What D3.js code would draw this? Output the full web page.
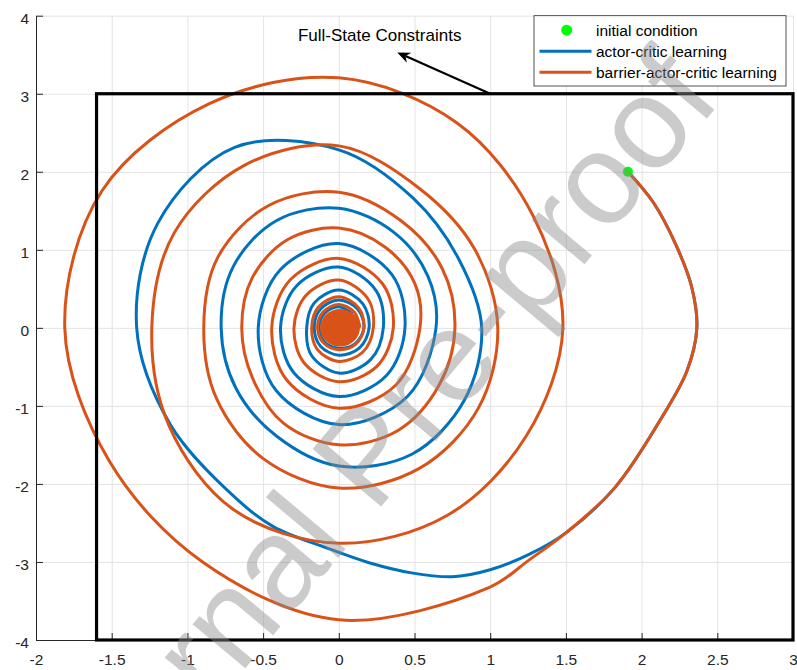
<!DOCTYPE html>
<html>
<head>
<meta charset="utf-8">
<script src="https://cdn.jsdelivr.net/npm/d3@7"></script>
<style>
    body { margin: 0; background: #fff; }
    svg { display: block; font-family: "Liberation Sans", Arial, Helvetica, sans-serif; }
</style>
</head>
<body>
<svg id="chart" width="797" height="670"></svg>
<script>
// ticks
const xTicks = [-2, -1.5, -1, -0.5, 0, 0.5, 1, 1.5, 2, 2.5, 3];
const yTicks = [-4, -3, -2, -1, 0, 1, 2, 3, 4];

// state constraint box and start point
const constraintX = [-1.6, 3];
const constraintY = [-4, 3];
const initialCondition = [1.91, 2.0];

// both runs leave the start point together
const sharedStart = [
    [1.91, 2.00], [2.08, 1.60], [2.224, 1.075], [2.33, 0.53], [2.365, 0.0], [2.30, -0.55],
    [2.144, -1.114], [1.825, -2.044], [1.502, -2.624]
];

// actor-critic learning after the split, one loop per line
const actorCritic = [
    [1.26, -2.90], [1.00, -3.10], [0.75, -3.19], [0.48, -3.14], [0.20, -3.01], [-0.08, -2.82], [-0.43, -2.55],
    [-0.66, -2.218], [-1.111, -1.244], [-1.335, 0.0], [-1.196, 1.339], [-0.688, 2.313], [0.0, 2.281], [0.493, 1.658], [0.791, 0.886], [0.944, 0.0],
    [0.829, -0.929], [0.482, -1.62], [0.0, -1.771], [-0.412, -1.386], [-0.682, -0.764], [-0.777, 0.0], [-0.698, 0.782], [-0.41, 1.376], [0.0, 1.533], [0.364, 1.223], [0.589, 0.66], [0.642, 0.0],
    [0.453, -0.879], [0.0, -1.24], [-0.414, -0.803], [-0.532, 0.0], [-0.385, 0.747], [0.0, 1.08], [0.351, 0.682], [0.437, 0.0],
    [0.315, -0.611], [0.0, -0.88], [-0.297, -0.575], [-0.385, 0.0], [-0.278, 0.54], [0.0, 0.78], [0.246, 0.478], [0.294, 0.0],
    [0.21, -0.407], [0.0, -0.58], [-0.181, -0.351], [-0.212, 0.0], [-0.163, 0.317], [0.0, 0.485], [0.159, 0.308], [0.20, 0.0],
    [0.135, -0.261], [0.0, -0.35], [-0.121, -0.235], [-0.162, 0.0], [-0.122, 0.237], [0.0, 0.357], [0.124, 0.24], [0.166, 0.0],
    [0.106, -0.205], [0.0, -0.26], [-0.093, -0.181], [-0.13, 0.0], [-0.095, 0.185], [0.0, 0.27], [0.091, 0.177]
];

// barrier-actor-critic learning after the split, one loop per line
const barrierActorCritic = [
    [1.26, -2.97], [0.991, -3.329], [0.0, -3.742], [-0.895, -3.007], [-1.518, -1.70], [-1.81, 0.0], [-1.565, 1.753], [-0.855, 2.873], [0.0, 3.204], [0.781, 2.626], [1.283, 1.436], [1.48, 0.0],
    [1.238, -1.386], [0.715, -2.404], [0.0, -2.76], [-0.694, -2.331], [-1.121, -1.256], [-1.235, 0.0], [-1.087, 1.217], [-0.621, 2.086], [0.0, 2.332], [0.537, 1.78], [0.898, 1.006], [1.05, 0.0],
    [0.921, -1.032], [0.535, -1.798], [0.0, -2.053], [-0.499, -1.676], [-0.808, -0.905], [-0.892, 0.0], [-0.801, 0.897], [-0.466, 1.565], [0.0, 1.738], [0.409, 1.375], [0.682, 0.764], [0.767, 0.0],
    [0.661, -0.74], [0.391, -1.315], [0.0, -1.499], [-0.364, -1.224], [-0.571, -0.639], [-0.641, 0.0], [-0.572, 0.641], [-0.337, 1.132], [0.0, 1.278], [0.307, 1.032], [0.503, 0.563], [0.536, 0.0],
    [0.377, -0.732], [0.0, -1.03], [-0.344, -0.668], [-0.443, 0.0], [-0.319, 0.619], [0.0, 0.89], [0.29, 0.562], [0.36, 0.0],
    [0.253, -0.491], [0.0, -0.69], [-0.23, -0.447], [-0.296, 0.0], [-0.216, 0.419], [0.0, 0.613], [0.192, 0.373], [0.228, 0.0],
    [0.159, -0.309], [0.0, -0.43], [-0.142, -0.275], [-0.179, 0.0], [-0.136, 0.264], [0.0, 0.40], [0.131, 0.255], [0.166, 0.0],
    [0.11, -0.213], [0.0, -0.28], [-0.10, -0.195], [-0.14, 0.0], [-0.104, 0.202], [0.0, 0.30], [0.103, 0.199], [0.14, 0.0]
];

// the barrier run settles into a solid spot at the origin
const coreX = [-0.124, 0.14];
const coreY = [-0.24, 0.24];

const legendLabels = ["initial condition", "actor-critic learning", "barrier-actor-critic learning"];
const annotationText = "Full-State Constraints";
const annotationAt = [0.27, 3.676];
const arrowFrom = [1.0, 3.0];
const arrowTo = [0.386, 3.53];
const watermarkText = "Journal Pre-proof";

const cBlue = "#0072BD";
const cOrange = "#D95319";
const cAxis = "#262626";

function drawChart() {
    let canvas = d3.select("#chart");

    let left = 36;
    let right = 793;
    let top = 15.7;
    let bottom = 640;

    let x = d3.scaleLinear().domain([-2, 3]).range([left, right]);
    let y = d3.scaleLinear().domain([-4, 4]).range([bottom, top]);

    // grid
    canvas.append("g")
        .attr("transform", "translate(0," + bottom + ")")
        .call(d3.axisBottom(x).tickValues(xTicks).tickSize(-(bottom - top)).tickFormat(""))
        .call(g => g.select(".domain").remove())
        .selectAll("line").attr("stroke", "#e3e3e3");
    canvas.append("g")
        .attr("transform", "translate(" + left + ",0)")
        .call(d3.axisLeft(y).tickValues(yTicks).tickSize(-(right - left)).tickFormat(""))
        .call(g => g.select(".domain").remove())
        .selectAll("line").attr("stroke", "#e3e3e3");

    // axes, ticks pointing inwards
    let xAxis = canvas.append("g")
        .attr("transform", "translate(0," + bottom + ")")
        .call(d3.axisBottom(x).tickValues(xTicks).tickSizeInner(-7).tickSizeOuter(0)
            .tickPadding(14).tickFormat(d => String(d)));
    let yAxis = canvas.append("g")
        .attr("transform", "translate(" + left + ",0)")
        .call(d3.axisLeft(y).tickValues(yTicks).tickSizeInner(-7).tickSizeOuter(0)
            .tickPadding(7).tickFormat(d => String(d)));
    [xAxis, yAxis].forEach(g => {
        g.attr("font-family", null).attr("font-size", null);
        g.select(".domain").attr("stroke", cAxis);
        g.selectAll(".tick line").attr("stroke", cAxis);
        g.selectAll(".tick text").attr("fill", cAxis).style("font-size", "15.5px");
    });
    yAxis.selectAll(".tick text").attr("dy", "0.48em");

    // trajectories
    let line = d3.line()
        .x(d => x(d[0]))
        .y(d => y(d[1]))
        .curve(d3.curveCatmullRom.alpha(0.5));

    canvas.append("path")
        .datum(sharedStart.concat(actorCritic))
        .attr("d", line)
        .attr("fill", "none")
        .attr("stroke", cBlue)
        .attr("stroke-width", 3);

    canvas.append("path")
        .datum(sharedStart.concat(barrierActorCritic))
        .attr("d", line)
        .attr("fill", "none")
        .attr("stroke", cOrange)
        .attr("stroke-width", 3);

    canvas.append("ellipse")
        .attr("cx", x(d3.mean(coreX)))
        .attr("cy", y(d3.mean(coreY)))
        .attr("rx", (x(coreX[1]) - x(coreX[0])) / 2)
        .attr("ry", (y(coreY[0]) - y(coreY[1])) / 2)
        .attr("fill", cOrange);

    // constraint box
    canvas.append("rect")
        .attr("x", x(constraintX[0]))
        .attr("y", y(constraintY[1]))
        .attr("width", x(constraintX[1]) - x(constraintX[0]))
        .attr("height", y(constraintY[0]) - y(constraintY[1]))
        .attr("fill", "none")
        .attr("stroke", "#000")
        .attr("stroke-width", 3.2);

    canvas.append("circle")
        .attr("cx", x(initialCondition[0]))
        .attr("cy", y(initialCondition[1]))
        .attr("r", 5)
        .attr("fill", "#00ff00");

    // annotation arrow
    let tip = [x(arrowTo[0]), y(arrowTo[1])];
    let tail = [x(arrowFrom[0]), y(arrowFrom[1])];
    let len = Math.hypot(tip[0] - tail[0], tip[1] - tail[1]);
    let u = [(tip[0] - tail[0]) / len, (tip[1] - tail[1]) / len];
    let n = [-u[1], u[0]];
    let headLen = 13, headHalf = 5.5, notch = 4;
    canvas.append("line")
        .attr("x1", tail[0]).attr("y1", tail[1])
        .attr("x2", tip[0] - (headLen - notch) * u[0])
        .attr("y2", tip[1] - (headLen - notch) * u[1])
        .attr("stroke", "#000")
        .attr("stroke-width", 2.2);
    let head = [
        tip,
        [tip[0] - headLen * u[0] + headHalf * n[0], tip[1] - headLen * u[1] + headHalf * n[1]],
        [tip[0] - (headLen - notch) * u[0], tip[1] - (headLen - notch) * u[1]],
        [tip[0] - headLen * u[0] - headHalf * n[0], tip[1] - headLen * u[1] - headHalf * n[1]]
    ];
    canvas.append("path")
        .attr("d", "M" + head.map(p => p.join(",")).join("L") + "Z")
        .attr("fill", "#000");

    canvas.append("text")
        .attr("x", x(annotationAt[0]))
        .attr("y", y(annotationAt[1]))
        .attr("text-anchor", "middle")
        .attr("font-size", "17px")
        .attr("fill", "#000")
        .text(annotationText);

    // legend
    let legend = canvas.append("g").attr("transform", "translate(534,15.7)");
    legend.append("rect")
        .attr("width", 252)
        .attr("height", 70.3)
        .attr("fill", "#fff")
        .attr("stroke", cAxis)
        .attr("stroke-width", 0.8);
    let rows = legend.selectAll(".row")
        .data(legendLabels)
        .enter()
        .append("g")
        .attr("transform", (d, i) => "translate(0," + (14.5 + i * 21) + ")");
    rows.append("text")
        .attr("x", 62)
        .attr("y", 6)
        .attr("font-size", "15.5px")
        .attr("fill", "#000")
        .text(d => d);
    rows.filter((d, i) => i === 0).append("circle")
        .attr("cx", 32.7)
        .attr("r", 5.5)
        .attr("fill", "#00ff00");
    rows.filter((d, i) => i > 0).append("line")
        .attr("x1", 5.5)
        .attr("x2", 57.5)
        .attr("stroke", (d, i) => i === 0 ? cBlue : cOrange)
        .attr("stroke-width", 3);

    // watermark
    canvas.append("text")
        .attr("transform", "translate(365,455) rotate(-50)")
        .attr("text-anchor", "middle")
        .attr("dy", "0.35em")
        .attr("font-size", "130px")
        .attr("fill", "#8c8c8c")
        .attr("fill-opacity", 0.45)
        .text(watermarkText);
}

drawChart();
</script>
</body>
</html>
